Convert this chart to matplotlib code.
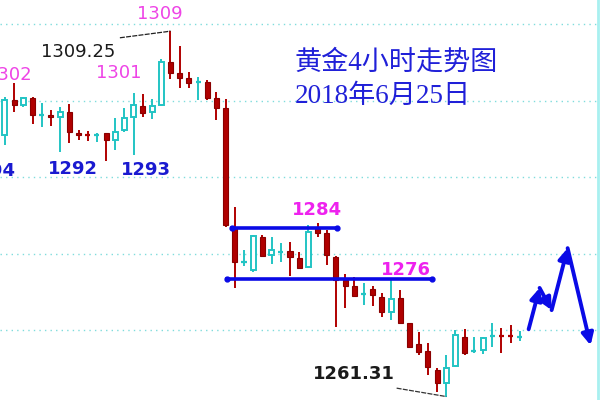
import matplotlib
matplotlib.use("Agg")
import matplotlib.pyplot as plt
from matplotlib.patches import Rectangle

# 4小时K线 (开, 高, 低, 收)
opens = [1295.5, 1300.1, 1299.4, 1300.3, 1298.1, 1298.1, 1297.8, 1298.5, 1295.8, 1295.6,
         1295.5, 1295.8, 1294.8, 1296.1, 1297.8, 1299.3, 1298.5, 1299.4, 1305.0, 1303.6,
         1302.9, 1302.4, 1302.4, 1300.3, 1299.0, 1283.3, 1278.9, 1277.8, 1282.2, 1279.8,
         1280.2, 1280.3, 1279.4, 1278.2, 1283.3, 1282.7, 1279.5, 1276.5, 1275.8, 1274.7,
         1275.4, 1274.3, 1272.4, 1274.2, 1270.9, 1268.2, 1267.3, 1264.8, 1263.1, 1265.3,
         1269.1, 1267.1, 1267.4, 1269.2, 1269.3, 1269.3, 1269.0]
highs = [1300.5, 1302.3, 1300.5, 1300.5, 1299.7, 1298.8, 1299.2, 1299.5, 1296.1, 1296.0,
         1295.8, 1295.8, 1297.7, 1299.0, 1301.0, 1300.8, 1300.2, 1305.4, 1309.1, 1307.1,
         1303.7, 1303.1, 1302.7, 1301.1, 1300.2, 1286.1, 1280.5, 1282.4, 1282.4, 1282.2,
         1281.4, 1281.5, 1280.2, 1283.7, 1284.0, 1283.1, 1279.7, 1277.3, 1276.9, 1276.1,
         1275.8, 1274.8, 1276.7, 1275.2, 1270.9, 1269.7, 1268.3, 1265.0, 1266.7, 1270.0,
         1270.1, 1269.1, 1269.1, 1270.9, 1270.3, 1270.7, 1269.9]
lows = [1294.2, 1298.5, 1299.2, 1296.9, 1296.5, 1296.7, 1293.3, 1294.4, 1294.8, 1294.7,
        1294.6, 1292.1, 1293.5, 1295.9, 1292.9, 1297.8, 1297.6, 1299.3, 1302.8, 1301.6,
        1301.6, 1300.1, 1300.1, 1297.5, 1283.5, 1275.5, 1278.4, 1277.6, 1279.5, 1278.6,
        1278.9, 1277.1, 1278.0, 1278.1, 1282.2, 1278.5, 1270.4, 1272.9, 1274.3, 1273.3,
        1273.1, 1271.7, 1271.3, 1270.9, 1267.6, 1266.7, 1264.1, 1261.9, 1261.3, 1265.2,
        1266.7, 1267.0, 1266.9, 1267.8, 1267.0, 1268.3, 1268.6]
closes = [1300.1, 1299.4, 1300.3, 1298.1, 1298.2, 1297.8, 1298.5, 1295.9, 1295.5, 1295.4,
          1295.6, 1294.8, 1295.9, 1297.7, 1299.4, 1298.4, 1299.3, 1305.0, 1303.6, 1302.9,
          1302.3, 1302.5, 1300.3, 1299.0, 1283.7, 1278.9, 1279.0, 1282.3, 1279.7, 1280.5,
          1280.3, 1279.5, 1278.1, 1282.8, 1282.7, 1279.8, 1276.5, 1275.8, 1274.4, 1274.8,
          1274.6, 1272.4, 1274.1, 1270.9, 1267.8, 1267.1, 1265.2, 1263.1, 1265.0, 1269.3,
          1267.0, 1267.3, 1269.0, 1269.3, 1269.2, 1269.2, 1269.1]

# 支撑/阻力水平线
level_prices = [1283.3, 1276.7]
level_start = [24.7, 24.2]
level_end = [36.1, 46.5]

# 预测走势箭头
arrow_x = [56.96, 58.15, 59.46, 61.2, 63.7]
arrow_y = [1270.1, 1275.5, 1272.6, 1280.7, 1268.0]

grid_prices = [1310, 1300, 1290, 1280, 1270]

up_color = '#22c4c4'
down_color = '#b00000'
magenta = '#ee44e6'
blue_txt = '#1a1ad0'

fig = plt.figure(figsize=(6, 4), dpi=100)
ax = fig.add_axes([0, 0, 0.996, 1])
ax.set_xlim(-0.54, 64.46)
ax.set_ylim(1260.85, 1313.14)
ax.set_xticks([])
ax.set_yticks([])
for s in ['top', 'left', 'bottom']:
    ax.spines[s].set_visible(False)
ax.spines['right'].set_color('#a8f0f0')
ax.spines['right'].set_linewidth(2)

for g in grid_prices:
    ax.axhline(g, color='#7fdcdc', lw=1, ls=(0, (1, 3)), zorder=1)

w = 0.55
for i, (o, h, l, c) in enumerate(zip(opens, highs, lows, closes)):
    up = c >= o
    col = up_color if up else down_color
    ax.vlines(i, l, h, color=col, lw=1.4, zorder=2)
    lo, hi = min(o, c), max(o, c)
    if hi - lo < 0.25:
        ax.hlines((o + c) / 2, i - w / 2, i + w / 2, color=col, lw=1.6, zorder=3)
    elif up:
        ax.add_patch(Rectangle((i - w / 2, lo), w, hi - lo, facecolor='white',
                               edgecolor=col, lw=1.4, zorder=3))
    else:
        ax.add_patch(Rectangle((i - w / 2, lo), w, hi - lo, facecolor=col,
                               edgecolor='#8a0000', lw=0.8, zorder=3))

for p, x0, x1 in zip(level_prices, level_start, level_end):
    ax.plot([x0, x1], [p, p], color='#0a0ae6', lw=2.6, zorder=4,
            marker='o', markersize=3.5)

for k in range(len(arrow_x) - 1):
    ax.annotate('', xy=(arrow_x[k + 1], arrow_y[k + 1]), xytext=(arrow_x[k], arrow_y[k]),
                arrowprops=dict(arrowstyle='-|>,head_length=0.7,head_width=0.35',
                                color='#0a0ae6', lw=2.8, shrinkA=0, shrinkB=0),
                zorder=5)

# 标注线
ax.plot([12.5, 17.6, 18], [1308.2, 1309.0, highs[18]], color='#222222', lw=0.9,
        ls=(0, (4, 1)), zorder=4)
ax.plot([42.6, 48], [1262.4, lows[48]], color='#333333', lw=0.9,
        ls=(0, (4, 1)), zorder=4)

fs = 13
ax.text(16.85, 1311.3, '1309', color=magenta, fontsize=fs, ha='center', va='center')
ax.text(7.93, 1306.3, '1309.25', color='#1a1a1a', fontsize=fs, ha='center', va='center')
ax.text(2.93, 1303.3, '1302', color=magenta, fontsize=fs, ha='right', va='center')
ax.text(12.4, 1303.6, '1301', color=magenta, fontsize=fs, ha='center', va='center')
ax.text(1.15, 1290.8, '1294', color=blue_txt, fontsize=fs, ha='right', va='center',
        fontweight='bold')
ax.text(7.4, 1291.0, '1292', color=blue_txt, fontsize=fs, ha='center', va='center',
        fontweight='bold')
ax.text(15.3, 1290.9, '1293', color=blue_txt, fontsize=fs, ha='center', va='center',
        fontweight='bold')
ax.text(33.9, 1285.7, '1284', color='#ee22ee', fontsize=fs, ha='center', va='center',
        fontweight='bold')
ax.text(43.6, 1277.8, '1276', color='#ee22ee', fontsize=fs, ha='center', va='center',
        fontweight='bold')
ax.text(38.0, 1264.2, '1261.31', color='#1a1a1a', fontsize=fs, ha='center', va='center',
        fontweight='bold')

cjk = ['Liberation Serif', 'Noto Sans CJK SC']
ax.text(0.493, 0.8425, '黄金4小时走势图', transform=ax.transAxes, color='#2020d8',
        fontsize=19.5, family=cjk, ha='left', va='center')
ax.text(0.493, 0.76, '2018年6月25日', transform=ax.transAxes, color='#2020d8',
        fontsize=19.5, family=cjk, ha='left', va='center')

fig.savefig('out.png', dpi=100)
